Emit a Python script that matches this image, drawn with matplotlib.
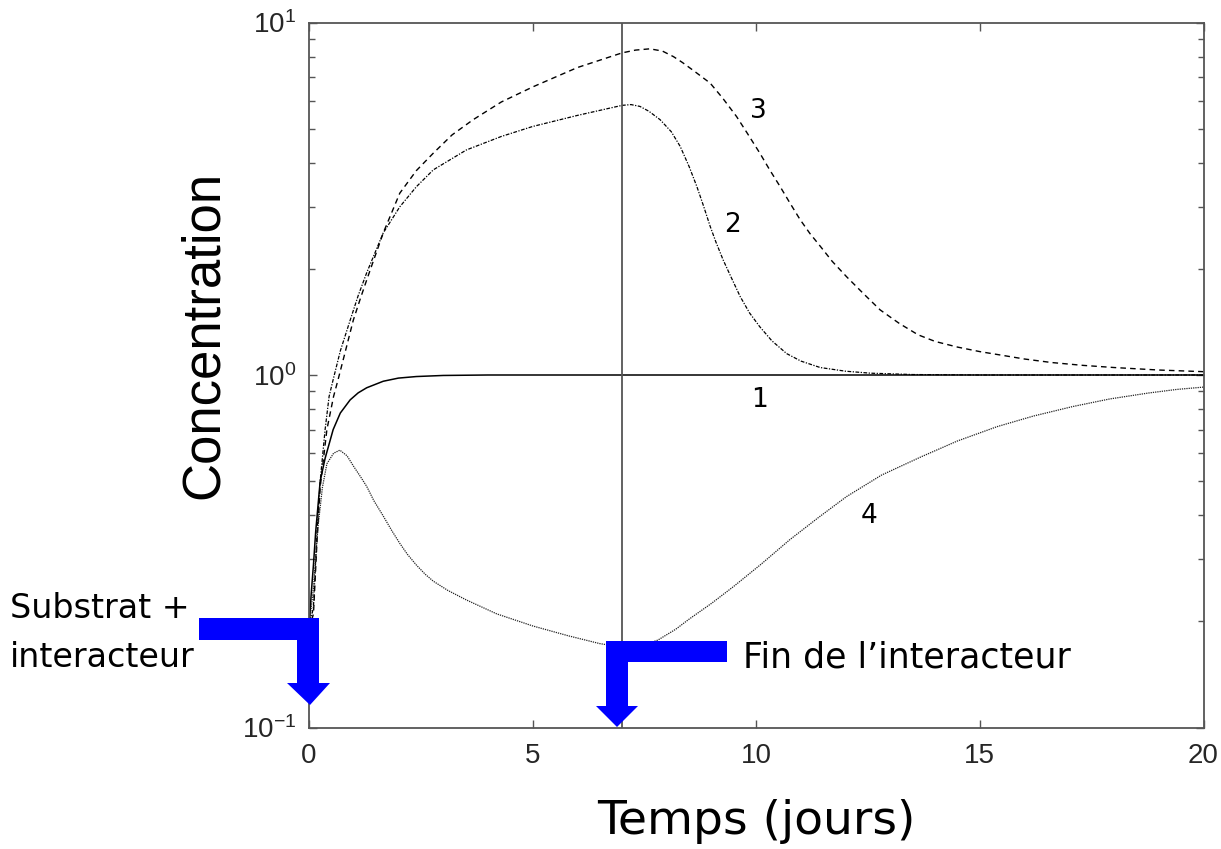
import numpy as np
import matplotlib
matplotlib.use("Agg")
import matplotlib.pyplot as plt
from matplotlib.patches import Polygon
from matplotlib.ticker import LogLocator, FixedLocator

from matplotlib import rcParams
rcParams['font.family'] = 'sans-serif'
rcParams['font.sans-serif'] = ['Liberation Sans', 'DejaVu Sans']
rcParams['mathtext.fontset'] = 'custom'
rcParams['mathtext.rm'] = 'Liberation Sans'
rcParams['axes.unicode_minus'] = False

W, H = 1221, 849

# curve 1 (solid)
t1 = [0, 0.05, 0.1, 0.15, 0.25, 0.36, 0.54, 0.7, 0.92, 1.1, 1.29, 1.66, 2.0, 2.4, 3.0, 4.0, 7.0, 20.0]
c1 = [0.19, 0.24, 0.29, 0.36, 0.5, 0.58, 0.7, 0.78, 0.85, 0.89, 0.92, 0.96, 0.98, 0.99, 0.997, 1.0, 1.0, 1.0]

# curve 2 (dash-dot)
t2 = [0, 0.1, 0.18, 0.25, 0.36, 0.45, 0.54, 0.7, 0.92, 1.1, 1.29, 1.66, 2.03, 2.4, 2.78, 3.52,
      4.3, 5.0, 6.0, 7.0, 7.2, 7.4, 7.6, 7.85, 8.1, 8.3, 8.5, 8.67, 8.82, 8.97, 9.1, 9.26, 9.45,
      9.64, 9.85, 10.08, 10.35, 10.68, 11.0, 11.43, 12.0, 12.55, 13.5, 15.0, 20.0]
c2 = [0.19, 0.22, 0.36, 0.5, 0.70, 0.87, 0.97, 1.17, 1.43, 1.68, 1.95, 2.53, 3.0, 3.42, 3.82, 4.35,
      4.75, 5.07, 5.45, 5.82, 5.85, 5.78, 5.6, 5.3, 4.9, 4.45, 3.9, 3.43, 3.02, 2.64, 2.38, 2.12, 1.88,
      1.67, 1.5, 1.37, 1.25, 1.15, 1.095, 1.05, 1.025, 1.012, 1.003, 1.0, 1.0]

# curve 3 (dashed)
t3 = [0, 0.1, 0.18, 0.25, 0.4, 0.55, 0.65, 0.8, 0.99, 1.15, 1.29, 1.66, 2.03, 2.4, 2.78, 3.2,
      3.67, 4.3, 5.02, 6.0, 7.0, 7.3, 7.62, 7.9, 8.15, 8.35, 8.6, 8.97, 9.25, 9.56, 9.8, 10.08,
      10.3, 10.53, 10.75, 10.98, 11.2, 11.43, 11.7, 12.02, 12.4, 12.77, 13.2, 13.62, 14.0, 14.5,
      15.0, 15.45, 16.0, 16.6, 17.3, 18.0, 19.0, 20.0]
c3 = [0.19, 0.21, 0.34, 0.48, 0.70, 0.87, 0.97, 1.15, 1.43, 1.65, 1.86, 2.53, 3.28, 3.8, 4.26, 4.8,
      5.3, 5.95, 6.58, 7.45, 8.2, 8.35, 8.42, 8.3, 8.0, 7.7, 7.3, 6.73, 6.1, 5.41, 4.85, 4.26,
      3.82, 3.43, 3.08, 2.76, 2.52, 2.32, 2.1, 1.90, 1.70, 1.53, 1.40, 1.30, 1.245, 1.20,
      1.165, 1.14, 1.11, 1.085, 1.065, 1.05, 1.033, 1.022]

# curve 4 (dotted)
t4 = [0, 0.1, 0.2, 0.3, 0.4, 0.55, 0.69, 0.85, 1.0, 1.15, 1.29, 1.45, 1.65, 1.85, 2.03, 2.2,
      2.4, 2.6, 2.78, 3.1, 3.52, 4.2, 5.01, 5.8, 6.5, 7.0, 7.4, 7.8, 8.2, 8.5, 9.0, 9.49, 10.1,
      10.75, 11.4, 12.02, 12.8, 13.7, 14.5, 15.39, 16.2, 17.08, 17.9, 18.77, 19.4, 20.0]
c4 = [0.19, 0.25, 0.37, 0.48, 0.56, 0.60, 0.612, 0.59, 0.55, 0.515, 0.483, 0.44, 0.40, 0.362, 0.333, 0.31,
      0.289, 0.272, 0.26, 0.245, 0.23, 0.21, 0.194, 0.182, 0.173, 0.169, 0.17, 0.177, 0.19, 0.203, 0.225, 0.251, 0.29,
      0.341, 0.395, 0.452, 0.52, 0.587, 0.65, 0.714, 0.765, 0.814, 0.855, 0.889, 0.91, 0.924]

# curve numbers: (t, conc) of the label baseline
lab_txt = ['1', '2', '3', '4']
lab_t = [10.08, 9.48, 10.05, 12.52]
lab_c = [0.813, 2.55, 5.36, 0.381]

t_end = 7.0  # fin de l'interacteur


def px(x, y):
    # figure pixel (from top-left) -> figure fraction
    return (x / W, 1 - y / H)


fig = plt.figure(figsize=(W / 100, H / 100), dpi=100)
ax = fig.add_axes([309 / W, 1 - 727.5 / H, 894.5 / W, 705 / H])

ax.plot(t1, c1, color='k', lw=1.1, ls='-')
ax.plot(t2, c2, color='k', lw=0.9, ls=(0, (3, 1.2, 1, 1.2)))
ax.plot(t3, c3, color='k', lw=1.0, ls=(0, (4, 3)))
ax.plot(t4, c4, color='#222222', lw=0.9, ls=(0, (1, 0.8)))
ax.axvline(t_end, color='#555555', lw=1.3)

for s, x, y in zip(lab_txt, lab_t, lab_c):
    ax.text(x, y, s, ha='center', va='baseline', fontsize=19,
            family='DejaVu Sans', color='k')

ax.set_yscale('log')
ax.set_xlim(0, 20)
ax.set_ylim(0.1, 10)
ax.xaxis.set_major_locator(FixedLocator([0, 5, 10, 15, 20]))
ax.yaxis.set_major_locator(LogLocator(base=10, numticks=5))
ax.yaxis.set_minor_locator(LogLocator(base=10, subs=np.arange(2, 10), numticks=20))

for sp in ax.spines.values():
    sp.set_color('#555555')
    sp.set_linewidth(1.3)
ax.tick_params(which='both', direction='in', top=True, right=True,
               color='#555555', width=1.0)
ax.tick_params(which='major', length=6, labelsize=20, labelcolor='#262626')
ax.tick_params(which='minor', length=4)
ax.tick_params(axis='x', pad=11)
ax.tick_params(axis='y', pad=9)

fig.text(204 / W, 1 - 335 / H, 'Concentration', rotation=90, ha='center',
         va='center', fontsize=38, color='k')
fig.text(756 / W, 1 - 822 / H, 'Temps (jours)', ha='center', va='center',
         fontsize=34, family='DejaVu Sans', color='k')

fig.text(10 / W, 1 - 618 / H, 'Substrat +', ha='left', va='baseline',
         fontsize=24, family='DejaVu Sans', color='k')
fig.text(10 / W, 1 - 667 / H, 'interacteur', ha='left', va='baseline',
         fontsize=24, family='DejaVu Sans', color='k')
fig.text(743 / W, 1 - 667 / H, 'Fin de l\u2019interacteur', ha='left', va='baseline',
         fontsize=25, family='DejaVu Sans', color='k')

# blue elbow arrows
arrow1 = [(199, 618), (319, 618), (319, 683), (330, 683), (310, 705),
          (287, 683), (297, 683), (297, 640), (199, 640)]
arrow2 = [(606, 641), (727, 641), (727, 662), (628, 662), (628, 706),
          (638, 706), (617, 727), (596, 706), (606, 706)]
for pts in (arrow1, arrow2):
    poly = Polygon([px(x, y) for x, y in pts], closed=True,
                   transform=fig.transFigure, facecolor='#0000ff',
                   edgecolor='none', zorder=5)
    fig.add_artist(poly)

plt.savefig('out.png', dpi=100)
